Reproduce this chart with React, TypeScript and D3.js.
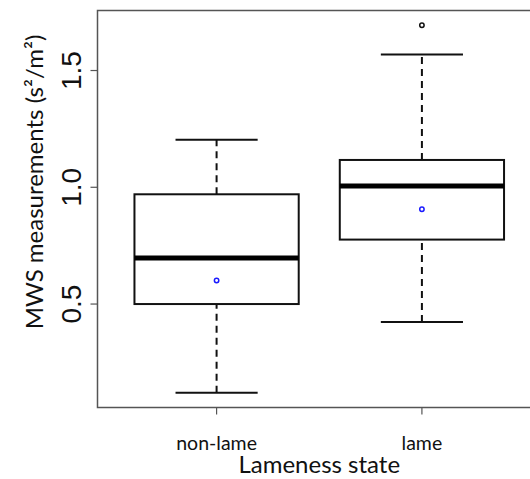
import * as d3 from "d3";
import React, { useEffect, useRef } from "react";

const groups = ["non-lame", "lame"];
const lowerWhisker = [0.12, 0.423];
const q1 = [0.5, 0.776];
const medians = [0.697, 1.006];
const q3 = [0.97, 1.117];
const upperWhisker = [1.204, 1.569];
const means = [0.601, 0.906];
const outliers = [[], [1.694]];
const yTicks = [0.5, 1.0, 1.5];

const App = () => {
  const svgRef = useRef(null);

  useEffect(() => {
    document.body.style.margin = "0";
    const svg = d3.select(svgRef.current).attr("width", 530).attr("height", 479);
    svg.selectAll("*").remove();

    const left = 97.5;
    const right = 541;
    const top = 10.5;
    const bottom = 407.5;

    const x = d3.scaleLinear().domain([0.42, 2.58]).range([left, right]);
    const y = d3.scaleLinear().domain([0.057, 1.757]).range([bottom, top]);
    const boxHalf = x(1.4) - x(1);

    // frame
    svg
      .append("rect")
      .attr("x", left)
      .attr("y", top)
      .attr("width", right - left)
      .attr("height", bottom - top)
      .attr("fill", "none")
      .attr("stroke", "#555")
      .attr("stroke-width", 1.5);

    // y axis
    const yAxis = svg.append("g");
    yTicks.forEach((t) => {
      yAxis
        .append("line")
        .attr("x1", left - 7)
        .attr("x2", left)
        .attr("y1", y(t))
        .attr("y2", y(t))
        .attr("stroke", "#555")
        .attr("stroke-width", 1.2);
      yAxis
        .append("text")
        .attr("transform", `translate(81,${y(t)}) rotate(-90)`)
        .attr("text-anchor", "middle")
        .attr("font-family", "Liberation Sans, Arial, sans-serif")
        .attr("font-size", 28)
        .attr("fill", "#111")
        .text(d3.format(".1f")(t));
    });

    svg
      .append("text")
      .attr("transform", `translate(43,${(top + bottom) / 2 - 27}) rotate(-90)`)
      .attr("text-anchor", "middle")
      .attr("font-family", "Lato, Open Sans, sans-serif")
      .attr("font-size", 24)
      .attr("fill", "#111")
      .text("MWS measurements (s²/m²)");

    // x axis
    groups.forEach((g, i) => {
      const cx = x(i + 1);
      svg
        .append("line")
        .attr("x1", cx)
        .attr("x2", cx)
        .attr("y1", bottom)
        .attr("y2", bottom + 7)
        .attr("stroke", "#555")
        .attr("stroke-width", 1.2);
      svg
        .append("text")
        .attr("x", cx)
        .attr("y", 450)
        .attr("text-anchor", "middle")
        .attr("font-family", "Lato, Open Sans, sans-serif")
        .attr("font-size", 19.5)
        .attr("fill", "#111")
        .text(g);
    });

    svg
      .append("text")
      .attr("x", (x(1) + x(2)) / 2)
      .attr("y", 473)
      .attr("text-anchor", "middle")
      .attr("font-family", "Lato, Open Sans, sans-serif")
      .attr("font-size", 24)
      .attr("fill", "#111")
      .text("Lameness state");

    // boxes
    groups.forEach((g, i) => {
      const cx = x(i + 1);
      const capHalf = boxHalf / 2;
      const b = svg.append("g");

      // whiskers
      [
        [lowerWhisker[i], q1[i]],
        [q3[i], upperWhisker[i]],
      ].forEach(([a, c]) => {
        b.append("line")
          .attr("x1", cx)
          .attr("x2", cx)
          .attr("y1", y(a))
          .attr("y2", y(c))
          .attr("stroke", "#111")
          .attr("stroke-width", 2)
          .attr("stroke-dasharray", "7,5");
      });
      [lowerWhisker[i], upperWhisker[i]].forEach((v) => {
        b.append("line")
          .attr("x1", cx - capHalf)
          .attr("x2", cx + capHalf)
          .attr("y1", y(v))
          .attr("y2", y(v))
          .attr("stroke", "#111")
          .attr("stroke-width", 2);
      });

      b.append("rect")
        .attr("x", cx - boxHalf)
        .attr("y", y(q3[i]))
        .attr("width", boxHalf * 2)
        .attr("height", y(q1[i]) - y(q3[i]))
        .attr("fill", "white")
        .attr("stroke", "#111")
        .attr("stroke-width", 2);

      b.append("line")
        .attr("x1", cx - boxHalf)
        .attr("x2", cx + boxHalf)
        .attr("y1", y(medians[i]))
        .attr("y2", y(medians[i]))
        .attr("stroke", "#000")
        .attr("stroke-width", 5);

      outliers[i].forEach((v) => {
        b.append("circle")
          .attr("cx", cx)
          .attr("cy", y(v))
          .attr("r", 2.2)
          .attr("fill", "none")
          .attr("stroke", "#111")
          .attr("stroke-width", 1.5);
      });

      b.append("circle")
        .attr("cx", cx)
        .attr("cy", y(means[i]))
        .attr("r", 2.2)
        .attr("fill", "none")
        .attr("stroke", "#1a1aff")
        .attr("stroke-width", 1.5);
    });

    return () => {
      d3.select(svgRef.current).selectAll("*").remove();
    };
  }, []);

  return (
    <div style={{ position: "absolute", left: 0, top: 0 }}>
      <svg ref={svgRef} style={{ display: "block" }}></svg>
    </div>
  );
};

export default App;
